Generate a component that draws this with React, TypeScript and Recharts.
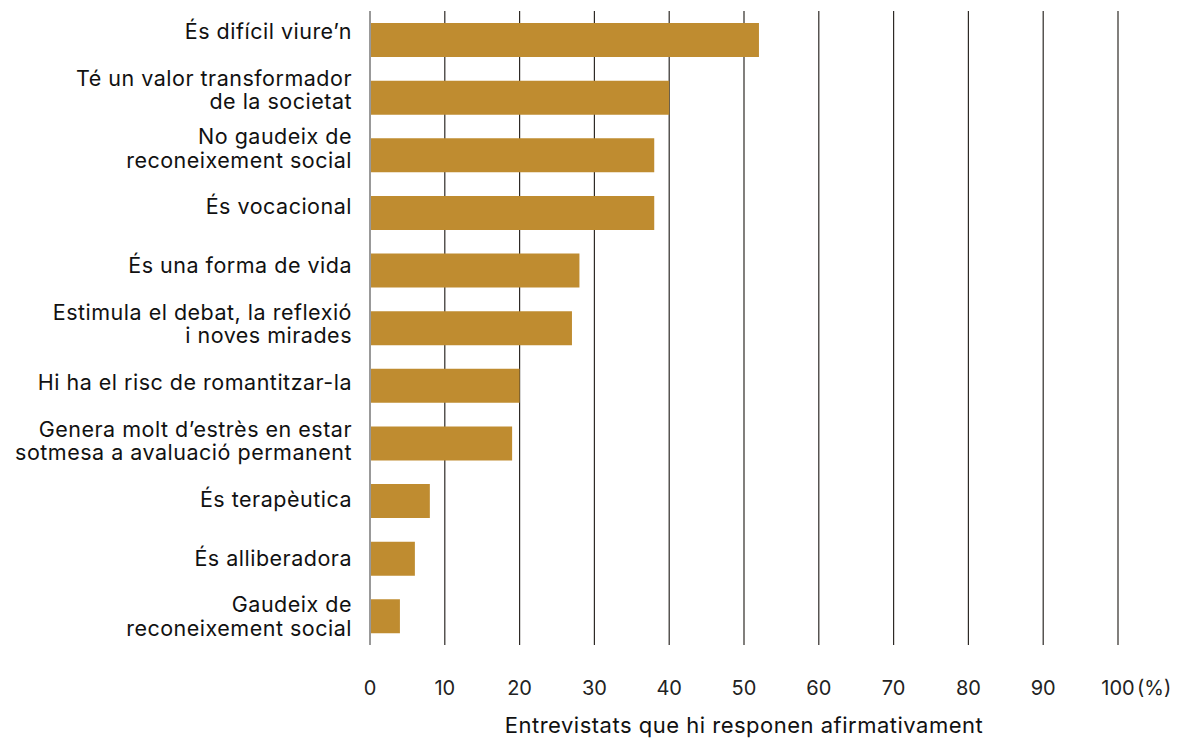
import { BarChart, Bar, XAxis, YAxis, CartesianGrid } from "recharts";

const categories = [
  "És difícil viure’n",
  "Té un valor transformador\nde la societat",
  "No gaudeix de\nreconeixement social",
  "És vocacional",
  "És una forma de vida",
  "Estimula el debat, la reflexió\ni noves mirades",
  "Hi ha el risc de romantitzar-la",
  "Genera molt d’estrès en estar\nsotmesa a avaluació permanent",
  "És terapèutica",
  "És alliberadora",
  "Gaudeix de\nreconeixement social",
];

const values = [52, 40, 38, 38, 28, 27, 20, 19, 8, 6, 4];

const xTicks = [0, 10, 20, 30, 40, 50, 60, 70, 80, 90, 100];

const axisTitle = "Entrevistats que hi responen afirmativament";

const data = categories.map((name, i) => ({ name, value: values[i] }));

const FONT = "Inter, 'Noto Sans', sans-serif";

function CategoryTick(props: any) {
  const { x, y, payload, index } = props;
  const lines = String(payload.value).split("\n");
  const shift = -9 + 0.9 * index;
  const lineH = 23.5;
  const start = y + shift - ((lines.length - 1) * lineH) / 2;
  return (
    <text
      x={x}
      y={start}
      textAnchor="end"
      fill="#111"
      fontSize={21.5}
      letterSpacing={0.5}
      fontFamily={FONT}
      dominantBaseline="central"
    >
      {lines.map((l, i) => (
        <tspan key={i} x={x} y={start + i * lineH}>
          {l}
        </tspan>
      ))}
    </text>
  );
}

function ValueTick(props: any) {
  const { x, y, payload } = props;
  return (
    <g>
      <text
        x={x}
        y={y + 35}
        textAnchor="middle"
        fill="#222"
        fontSize={20}
        fontFamily={FONT}
        dominantBaseline="central"
      >
        {payload.value}
      </text>
      {payload.value === 100 && (
        <text
          x={x + 19}
          y={y + 35}
          textAnchor="start"
          fill="#222"
          fontSize={20}
          fontFamily={FONT}
          dominantBaseline="central"
        >
          (%)
        </text>
      )}
    </g>
  );
}

export default function App() {
  return (
    <div style={{ position: "absolute", left: 0, top: 0, background: "#fff" }}>
      <BarChart
        width={1178}
        height={740}
        data={data}
        layout="vertical"
        margin={{ top: 11, right: 60, bottom: 0, left: 0 }}
        barCategoryGap={0}
      >
        <CartesianGrid
          horizontal={false}
          stroke="#2e2a26"
          strokeWidth={1.2}
          verticalValues={xTicks}
        />
        <XAxis
          type="number"
          domain={[0, 100]}
          ticks={xTicks}
          axisLine={false}
          tickLine={false}
          height={95}
          tick={<ValueTick />}
          interval={0}
          label={{
            value: axisTitle,
            position: "insideBottom",
            offset: 7,
            fill: "#111",
            fontSize: 22,
            letterSpacing: 0.5,
            fontFamily: FONT,
          }}
        />
        <YAxis
          type="category"
          dataKey="name"
          width={370}
          axisLine={{ stroke: "#999", strokeWidth: 2 }}
          tickLine={false}
          tickMargin={12}
          tick={<CategoryTick />}
          interval={0}
        />
        <Bar dataKey="value" fill="#BF8C30" barSize={34} isAnimationActive={false} />
      </BarChart>
    </div>
  );
}
